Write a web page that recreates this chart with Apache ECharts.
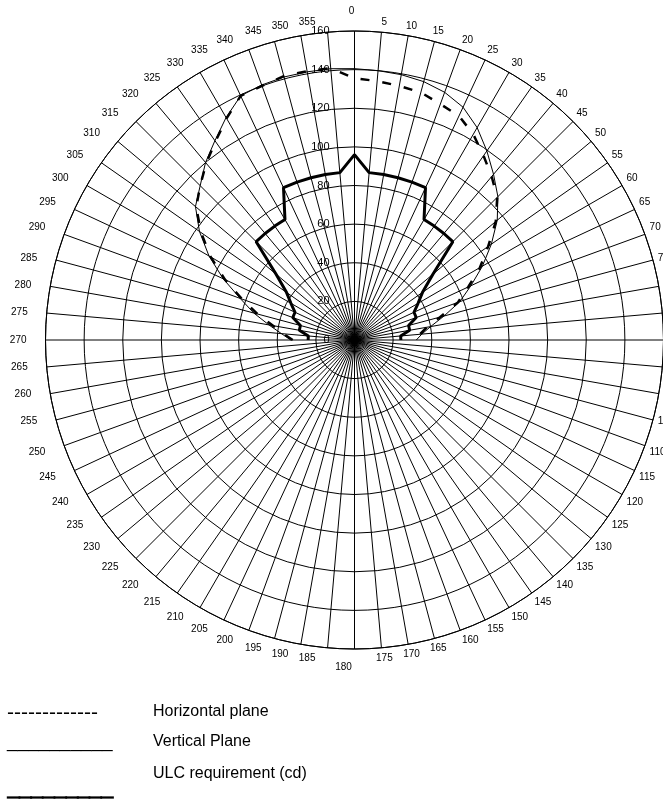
<!DOCTYPE html>
<html><head><meta charset="utf-8">
<script src="https://cdn.jsdelivr.net/npm/echarts@6/dist/echarts.min.js"></script>
<style>html,body{margin:0;padding:0;background:#fff}#c{width:663px;height:804px}</style>
</head><body><div id="c"></div>
<script>
// Angles (degrees, clockwise from top) at which the curves are sampled
const angles = [270,275,280,285,290,295,300,305,310,315,320,325,330,335,340,345,350,355,
                0,5,10,15,20,25,30,35,40,45,50,55,60,65,70,75,80,85,90];
// Horizontal plane (dashed)
const horizontal = [32,37,43,52,62,74,86,97,107,113,119.5,125.5,132.5,139.5,140,141.5,141.3,141.3,
                    135.5,134.6,133.6,132.7,130,128,123,116.5,110.5,104.5,95.5,84.5,75,65,57,46,38,34,31];
// Vertical plane (thin solid)
const vertical = [33,38,45,54,63,75,87,98,107.5,113,120,126,133,139.5,140.5,141,141,141,
                  140.5,140,139.5,138.5,136.5,133,127,119.5,112,105,96.5,86.5,76.5,66.5,58,48,40,35,32];
// ULC requirement (cd) (thick solid)
const ulc = [24,24,29,29,34,34,38,43,53,72,72,72,72,87,87,87,87,87,
             96,87,87,87,87,87,72,72,72,72,53,43,38,34,34,29,29,24,24];
// Axis ticks
const radiusTicks = [0,20,40,60,80,100,120,140,160];
const angleStep = 5;
const angleMax = 360;
// Legend texts
const legendSamples = ['-------------','__________','_________'];
const legendNames = ['Horizontal plane','Vertical Plane','ULC requirement (cd)'];

const FONT = "'Liberation Sans', Arial, sans-serif";
const pairs = vals => angles.map((a, i) => [vals[i], a]);

function isCenter(v){ return Math.abs(Math.sin(v*Math.PI/180))*314/309 < 0.3; }
const lab = {fontSize:10, fontFamily:FONT, color:'#000'};

const chart = echarts.init(document.getElementById('c'), null, {renderer:'canvas'});
chart.setOption({
  backgroundColor:'#fff',
  animation:false,
  polar:{center:[354.5,340], radius:309},
  angleAxis:{
    type:'value', min:0, max:angleMax, interval:angleStep, startAngle:90, clockwise:true,
    axisLine:{show:true, lineStyle:{color:'#000', width:1}},
    axisTick:{show:false},
    splitLine:{show:true, lineStyle:{color:'#000', width:1}},
    axisLabel:{
      margin:5, fontSize:10, fontFamily:FONT, color:'#000',
      formatter:function(v){
        if (v===angleMax) return '';
        const s = String(v);
        if (v===0) return '{t|'+s+'}';
        if (v===180) return '{b|'+s+'}';
        if (v>180) return isCenter(v) ? '{lc|'+s+'}' : '{l|'+s+'}';
        return isCenter(v) ? '{rc|'+s+'}' : '{r|'+s+'}';
      },
      rich:{
        t:Object.assign({padding:[0,6,10,0]}, lab),
        b:Object.assign({padding:[8,22,0,0]}, lab),
        lc:Object.assign({padding:[0,40,0,0]}, lab),
        l:Object.assign({padding:[0,14,0,0]}, lab),
        rc:Object.assign({padding:[0,0,0,5]}, lab),
        r:Object.assign({padding:[0,0,0,0]}, lab)
      }
    }
  },
  radiusAxis:{
    type:'value', min:radiusTicks[0], max:radiusTicks[radiusTicks.length-1],
    interval:radiusTicks[1]-radiusTicks[0],
    axisLine:{show:false}, axisTick:{show:false},
    splitLine:{show:true, lineStyle:{color:'#000', width:1}},
    axisLabel:{margin:25, fontSize:11, fontFamily:FONT, color:'#000'}
  },
  series:[
    {name:legendNames[0], type:'line', coordinateSystem:'polar', data:pairs(horizontal),
     symbol:'none', lineStyle:{color:'#000', width:2.5, type:[9,13]}, z:3},
    {name:legendNames[1], type:'line', coordinateSystem:'polar', data:pairs(vertical),
     symbol:'none', lineStyle:{color:'#000', width:1}, z:4},
    {name:legendNames[2], type:'line', coordinateSystem:'polar', data:pairs(ulc),
     symbol:'none', lineStyle:{color:'#000', width:3}, z:5}
  ],
  graphic:[
    {type:'text', left:7, top:703, style:{text:legendSamples[0], font:'21px '+FONT, fill:'#000'}},
    {type:'text', left:153, top:704, style:{text:legendNames[0], font:'16px '+FONT, fill:'#000'}},
    {type:'text', left:7, top:732, style:{text:legendSamples[1], font:'19px '+FONT, fill:'#000'}},
    {type:'text', left:153, top:734, style:{text:legendNames[1], font:'16px '+FONT, fill:'#000'}},
    {type:'text', left:7, top:778, style:{text:legendSamples[2], font:'bold 21px '+FONT, fill:'#000', stroke:'#000', lineWidth:1.5}},
    {type:'text', left:153, top:766, style:{text:legendNames[2], font:'16px '+FONT, fill:'#000'}}
  ]
});
</script></body></html>
